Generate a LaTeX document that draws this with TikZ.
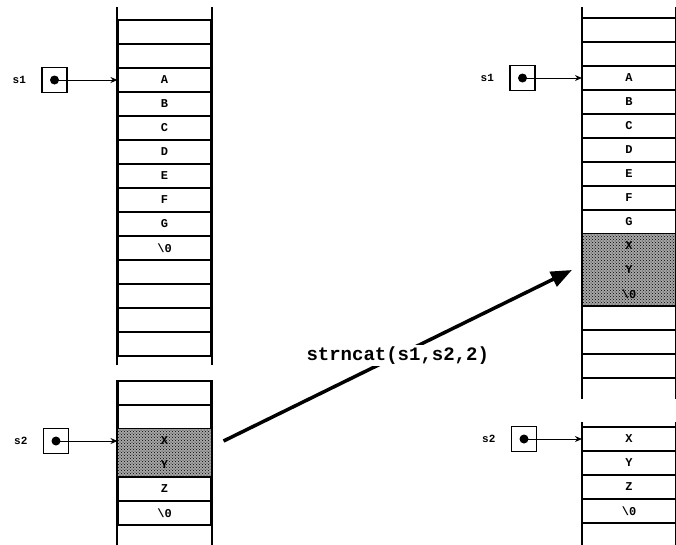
\documentclass[tikz,border=0pt]{standalone}
\usepackage{fontspec}
\setmonofont{Liberation Mono}
\usetikzlibrary{arrows.meta, patterns, positioning}

\begin{document}
\begin{tikzpicture}[x=1pt, y=-1pt,
  cell/.style={draw, line width=1.1pt, minimum width=93pt, minimum height=24pt, inner sep=0pt, font=\ttfamily\bfseries\fontsize{12}{12}\selectfont},
  copied/.style={cell, draw=none, preaction={fill=gray!70}, pattern=crosshatch dots},
  side/.style={line width=2pt},
  ptrbox/.style={draw, line width=1.2pt, minimum size=25pt, inner sep=0pt},
  ptrdot/.style={circle, fill, inner sep=0pt, minimum size=9pt},
  ptrname/.style={font=\ttfamily\bfseries\fontsize{11}{11}\selectfont},
  ptr/.style={-{Stealth[length=7pt, width=6pt]}, line width=0.9pt},
  call/.style={-{Triangle[length=21pt, width=16pt]}, line width=3.5pt},
  callname/.style={fill=white, inner sep=2pt, font=\ttfamily\bfseries\fontsize{19}{19}\selectfont}]
  \useasboundingbox (0,0) rectangle (676,544);
  % s1 before the call
  \foreach \ch/\st [count=\i] in {{}/cell,{}/cell,A/cell,B/cell,C/cell,D/cell,E/cell,F/cell,G/cell,\textbackslash0/cell,{}/cell,{}/cell,{}/cell,{}/cell}
    \node[\st] (la\i) at (164.5,8+24*\i) {\ch};
  \draw[side] ([yshift=12pt]la1.north west) -- ([yshift=-8pt]la14.south west);
  \draw[side] ([yshift=12pt]la1.north east) -- ([yshift=-8pt]la14.south east);
  % s2 before the call
  \foreach \ch/\st [count=\i] in {{}/cell,{}/cell,X/copied,Y/copied,Z/cell,\textbackslash0/cell}
    \node[\st] (lb\i) at (164.5,369+24*\i) {\ch};
  \draw[side] (lb1.north west) -- ([yshift=-19pt]lb6.south west);
  \draw[side] (lb1.north east) -- ([yshift=-19pt]lb6.south east);
  % s1 after the call
  \foreach \ch/\st [count=\i] in {{}/cell,{}/cell,A/cell,B/cell,C/cell,D/cell,E/cell,F/cell,G/cell,X/copied,Y/copied,\textbackslash0/copied,{}/cell,{}/cell,{}/cell}
    \node[\st] (ra\i) at (629,6+24*\i) {\ch};
  \draw[side] ([yshift=10pt]ra1.north west) -- ([yshift=-20pt]ra15.south west);
  \draw[side] ([yshift=10pt]ra1.north east) -- ([yshift=-20pt]ra15.south east);
  % s2 after the call
  \foreach \ch [count=\i] in {X,Y,Z,\textbackslash0}
    \node[cell] (rb\i) at (629,415+24*\i) {\ch};
  \draw[side] ([yshift=4pt]rb1.north west) -- ([yshift=-21pt]rb4.south west);
  \draw[side] ([yshift=4pt]rb1.north east) -- ([yshift=-21pt]rb4.south east);
  % pointers
  \node[ptrbox] (s1old) at (54.5,80) {};
  \node[ptrbox] (s2old) at (56,441) {};
  \node[ptrbox] (s1new) at (522.5,78) {};
  \node[ptrbox] (s2new) at (524,439) {};
  \node[ptrdot] (s1olddot) at (s1old) {};
  \node[ptrdot] (s2olddot) at (s2old) {};
  \node[ptrdot] (s1newdot) at (s1new) {};
  \node[ptrdot] (s2newdot) at (s2new) {};
  \node[ptrname, left=12pt of s1old] (s1oldname) {s1};
  \node[ptrname, left=12pt of s2old] (s2oldname) {s2};
  \node[ptrname, left=12pt of s1new] (s1newname) {s1};
  \node[ptrname, left=12pt of s2new] (s2newname) {s2};
  \draw[ptr] (s1olddot.center) -- (la3.west);
  \draw[ptr] (s2olddot.center) -- (lb3.west);
  \draw[ptr] (s1newdot.center) -- (ra3.west);
  \draw[ptr] (s2newdot.center) -- (rb1.west);
  % the call
  \coordinate (callfrom) at ([xshift=12pt]lb3.east);
  \coordinate (callto) at ([xshift=-10pt]ra11.west);
  \draw[call] (callfrom) -- (callto) node[midway, callname] (callname) {strncat(s1,s2,2)};
\end{tikzpicture}
\end{document}
